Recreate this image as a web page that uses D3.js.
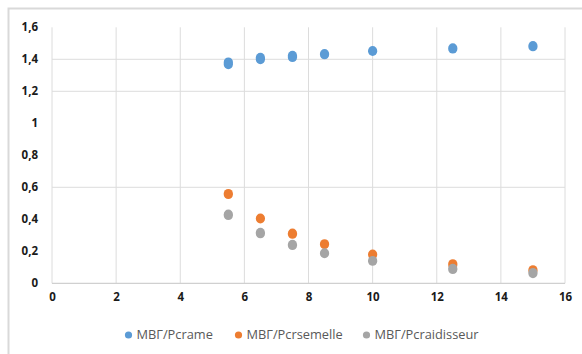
<!DOCTYPE html>
<html><head><meta charset="utf-8">
<script src="https://cdn.jsdelivr.net/npm/d3@7"></script>
<style>body{margin:0;background:#fff}svg{display:block}</style>
</head><body>
<svg id="c" width="582" height="354"></svg>
<script>
const xVals = [5.5, 6.5, 7.5, 8.5, 10, 12.5, 15];
const seriesNames = ["MBГ/Pcrame", "MBГ/Pcrsemelle", "MBГ/Pcraidisseur"];
const crame = [1.375, 1.405, 1.418, 1.432, 1.452, 1.468, 1.482];
const semelle = [0.558, 0.405, 0.31, 0.245, 0.18, 0.118, 0.082];
const raidisseur = [0.428, 0.314, 0.24, 0.188, 0.14, 0.09, 0.064];
const crameErr = [0.008, 0.007, 0.006, 0.003, 0.002, 0.003, 0.003];
const semelleErr = [0.003, 0.002, 0.003, 0.002, 0.002, 0.004, 0.002];
const raidisseurErr = [0.004, 0.004, 0.003, 0.002, 0.002, 0.003, 0.003];
const colors = ["#5B9BD5", "#ED7D31", "#A5A5A5"];
const xTicks = [0, 2, 4, 6, 8, 10, 12, 14, 16];
const yTicks = [0, 0.2, 0.4, 0.6, 0.8, 1, 1.2, 1.4, 1.6];
const yGrid = [0.6, 1.2, 1.4];

const svg = d3.select("#c");
const x = d3.scaleLinear().domain([0, 16]).range([52, 565]);
const y = d3.scaleLinear().domain([0, 1.6]).range([283.3, 27.3]);
const fmt = d => String(d).replace(".", ",");

svg.append("path").attr("d", "M8.5,354V8.5H582").attr("fill", "none").attr("stroke", "#d9d9d9").attr("stroke-width", 2);

svg.append("g").selectAll("line").data(xTicks).join("line")
  .attr("x1", d => x(d)).attr("x2", d => x(d))
  .attr("y1", y(1.6)).attr("y2", y(0))
  .attr("stroke", "#dcdcdc").attr("stroke-width", 1);
svg.append("g").selectAll("line").data(yGrid).join("line")
  .attr("x1", x(0)).attr("x2", x(16))
  .attr("y1", d => y(d)).attr("y2", d => y(d))
  .attr("stroke", "#dcdcdc").attr("stroke-width", 1);
svg.append("line").attr("x1", x(0)).attr("x2", x(16)).attr("y1", y(0)).attr("y2", y(0))
  .attr("stroke", "#d0d0d0").attr("stroke-width", 1.2);

const xAxis = d3.axisBottom(x).tickValues(xTicks).tickSize(0).tickPadding(0).tickFormat(fmt);
const gx = svg.append("g").attr("transform", `translate(0,${y(0)+14})`).call(xAxis);
const yAxis = d3.axisLeft(y).tickValues(yTicks).tickSize(0).tickPadding(0).tickFormat(fmt);
const gy = svg.append("g").attr("transform", `translate(38,0)`).call(yAxis);
[gx, gy].forEach(g => {
  g.select(".domain").remove();
  g.selectAll("text").attr("font-family", "'Open Sans', sans-serif").attr("font-size", 11.5)
    .attr("font-weight", "bold").attr("fill", "#1a1a1a");
});
gx.selectAll("text").attr("dy", "0.32em");

const all = [crame, semelle, raidisseur];
const errs = [crameErr, semelleErr, raidisseurErr];
all.forEach((vals, i) => {
  const g = svg.append("g");
  g.selectAll("path").data(vals).join("path")
    .attr("d", (d, j) => {
      const cx = x(xVals[j]);
      return `M${cx},${y(d - errs[i][j])}V${y(d + errs[i][j])}`;
    })
    .attr("stroke", colors[i]).attr("stroke-width", 9.2).attr("stroke-linecap", "round").attr("fill", "none");
});

const legX = [128.5, 238.5, 366.5];
const leg = svg.append("g");
seriesNames.forEach((n, i) => {
  leg.append("circle").attr("cx", legX[i]).attr("cy", 335).attr("r", 3.6).attr("fill", colors[i]);
  leg.append("text").attr("x", legX[i] + 8).attr("y", 335).attr("dy", "0.35em")
    .attr("font-family", "'Open Sans', sans-serif").attr("font-size", 12.8).attr("fill", "#595959").text(n);
});
</script>
</body></html>
